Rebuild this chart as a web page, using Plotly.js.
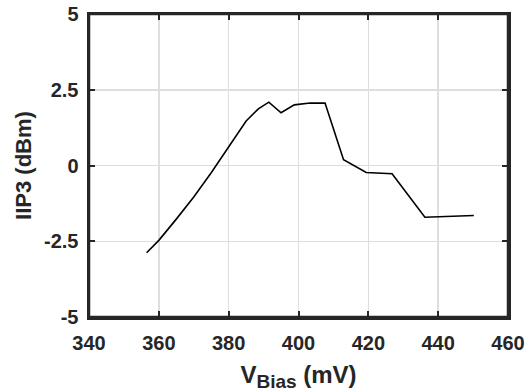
<!DOCTYPE html>
<html>
<head>
<meta charset="utf-8">
<script src="https://cdn.plot.ly/plotly-3.0.1.min.js"></script>
<style>html,body{margin:0;padding:0;background:#fff;}#chart{width:530px;height:392px;}</style>
</head>
<body>
<div id="chart"></div>
<script>
var vBias = [356.5, 360, 365, 370, 375, 380, 385, 388.5, 391.5, 395, 398.8, 403.3, 407.6, 412.9, 419.4, 426.8, 436.2, 450.2];
var iip3 = [-2.88, -2.47, -1.77, -1.04, -0.24, 0.62, 1.47, 1.87, 2.09, 1.74, 2.0, 2.06, 2.06, 0.19, -0.23, -0.27, -1.71, -1.65];
var xTicks = [340, 360, 380, 400, 420, 440, 460];
var yTicks = [-5, -2.5, 0, 2.5, 5];
var yTickText = ['-5', '-2.5', '0', '2.5', '5'];

var fontFam = 'Liberation Sans, Arial, sans-serif';
var axisCol = '#262626';

var trace = {
  x: vBias, y: iip3, type: 'scatter', mode: 'lines',
  line: {color: '#000000', width: 1.6}, hoverinfo: 'skip'
};

var layout = {
  width: 530, height: 392,
  margin: {l: 89, r: 22, t: 14, b: 75},
  paper_bgcolor: '#ffffff', plot_bgcolor: '#ffffff',
  showlegend: false,
  font: {family: fontFam, color: axisCol},
  xaxis: {
    range: [340, 460], tickvals: xTicks, ticktext: xTicks.map(String),
    ticks: 'inside', ticklen: 6, tickwidth: 2, tickcolor: axisCol,
    showline: true, linecolor: axisCol, linewidth: 2.5, mirror: 'ticks',
    showgrid: true, gridcolor: '#dedede', gridwidth: 1.5, zeroline: false,
    tickfont: {family: fontFam, size: 20, color: axisCol, weight: 'bold'},
    ticklabelstandoff: 6,
    title: {text: 'V<sub><span style="font-size:19px">Bias</span></sub> (mV)', font: {family: fontFam, size: 24, color: axisCol, weight: 'bold'}, standoff: 14}
  },
  yaxis: {
    range: [-5, 5], tickvals: yTicks, ticktext: yTickText,
    ticks: 'inside', ticklen: 6, tickwidth: 2, tickcolor: axisCol,
    showline: true, linecolor: axisCol, linewidth: 2.5, mirror: 'ticks',
    showgrid: true, gridcolor: '#dedede', gridwidth: 1.5, zeroline: false,
    tickfont: {family: fontFam, size: 20, color: axisCol, weight: 'bold'},
    ticklabelstandoff: 4,
    title: {text: 'IIP3 (dBm)', font: {family: fontFam, size: 22, color: axisCol, weight: 'bold'}, standoff: 7}
  },
  shapes: [{
    type: 'rect', xref: 'paper', yref: 'paper', x0: 0, x1: 1, y0: 0, y1: 1,
    line: {color: axisCol, width: 2.5}, fillcolor: 'rgba(0,0,0,0)', layer: 'above'
  }]
};

Plotly.newPlot('chart', [trace], layout, {staticPlot: true, displayModeBar: false});
</script>
</body>
</html>
